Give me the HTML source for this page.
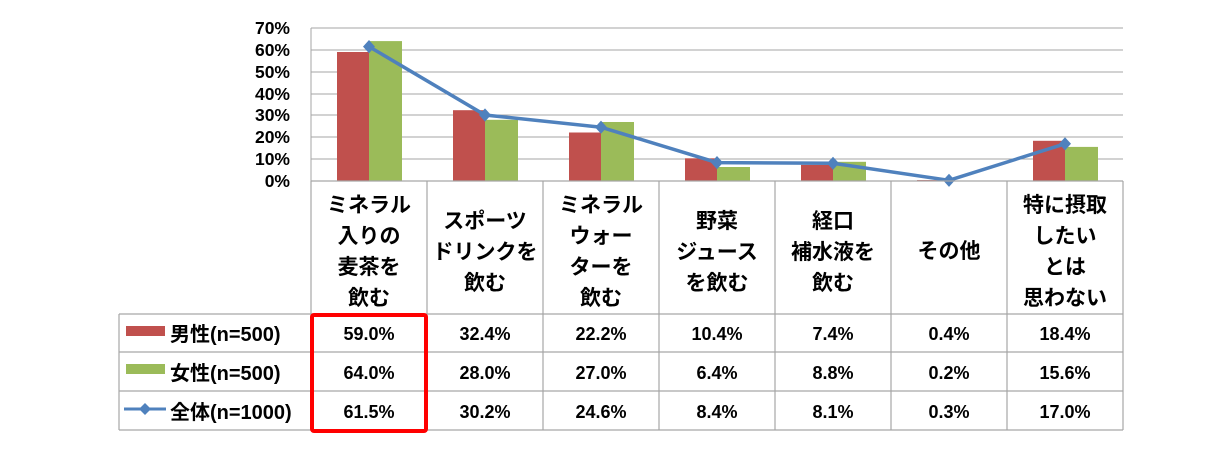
<!DOCTYPE html>
<html><head><meta charset="utf-8"><style>
html,body{margin:0;padding:0;background:#fff;}
svg{display:block;}
text{font-family:"Liberation Sans","Noto Sans CJK JP",sans-serif;font-weight:bold;fill:#000;}
</style></head><body>
<svg width="1225" height="476" viewBox="0 0 1225 476">
<g stroke="#a6a6a6" stroke-width="1">
<line x1="311" y1="28" x2="1123" y2="28"/>
<line x1="311" y1="50" x2="1123" y2="50"/>
<line x1="311" y1="72" x2="1123" y2="72"/>
<line x1="311" y1="94" x2="1123" y2="94"/>
<line x1="311" y1="115" x2="1123" y2="115"/>
<line x1="311" y1="137" x2="1123" y2="137"/>
<line x1="311" y1="159" x2="1123" y2="159"/>
<line x1="311" y1="28" x2="311" y2="181"/>
</g>
<g font-size="17.5" text-anchor="end">
<text x="290" y="34">70%</text><text x="290" y="56">60%</text><text x="290" y="78">50%</text>
<text x="290" y="100">40%</text><text x="290" y="121">30%</text><text x="290" y="143">20%</text>
<text x="290" y="165">10%</text><text x="290" y="187">0%</text>
</g>
<g fill="#c0504d">
<rect x="337" y="52" width="32" height="129"/><rect x="453" y="110.2" width="32" height="70.8"/>
<rect x="569" y="132.5" width="32" height="48.5"/><rect x="685" y="158.3" width="32" height="22.7"/>
<rect x="801" y="164.8" width="32" height="16.2"/><rect x="917" y="180.1" width="32" height="0.9"/>
<rect x="1033" y="140.8" width="32" height="40.2"/>
</g>
<g fill="#9bbb59">
<rect x="369" y="41.1" width="33" height="139.9"/><rect x="485" y="119.8" width="33" height="61.2"/>
<rect x="601" y="122" width="33" height="59"/><rect x="717" y="167" width="33" height="14"/>
<rect x="833" y="161.8" width="33" height="19.2"/><rect x="949" y="180.6" width="33" height="0.4"/>
<rect x="1065" y="146.9" width="33" height="34.1"/>
</g>
<polyline fill="none" stroke="#4f81bd" stroke-width="3.5" points="369,46.6 485,115 601,127.2 717,162.6 833,163.3 949,180.3 1065,143.8"/>
<g fill="#4f81bd">
<path d="M369 40l6 6.6-6 6.6-6-6.6z"/><path d="M485 108.4l6 6.6-6 6.6-6-6.6z"/>
<path d="M601 120.6l6 6.6-6 6.6-6-6.6z"/><path d="M717 156l6 6.6-6 6.6-6-6.6z"/>
<path d="M833 156.7l6 6.6-6 6.6-6-6.6z"/><path d="M949 173.7l6 6.6-6 6.6-6-6.6z"/>
<path d="M1065 137.2l6 6.6-6 6.6-6-6.6z"/>
</g>
<g stroke="#a6a6a6" stroke-width="1.2" fill="none">
<line x1="311" y1="181" x2="1123" y2="181"/>
<line x1="119" y1="314" x2="1123" y2="314"/>
<line x1="119" y1="352" x2="1123" y2="352"/>
<line x1="119" y1="391" x2="1123" y2="391"/>
<line x1="119" y1="430" x2="1123" y2="430"/>
<line x1="119" y1="314" x2="119" y2="430"/>
<line x1="311" y1="181" x2="311" y2="430"/>
<line x1="427" y1="181" x2="427" y2="430"/>
<line x1="543" y1="181" x2="543" y2="430"/>
<line x1="659" y1="181" x2="659" y2="430"/>
<line x1="775" y1="181" x2="775" y2="430"/>
<line x1="891" y1="181" x2="891" y2="430"/>
<line x1="1007" y1="181" x2="1007" y2="430"/>
<line x1="1123" y1="181" x2="1123" y2="430"/>
</g>
<g font-size="21" text-anchor="middle">
<text x="369" y="212">ミネラル</text><text x="369" y="243">入りの</text><text x="369" y="274">麦茶を</text><text x="369" y="305">飲む</text>
<text x="485" y="228">スポーツ</text><text x="485" y="259">ドリンクを</text><text x="485" y="290">飲む</text>
<text x="601" y="212">ミネラル</text><text x="601" y="243">ウォー</text><text x="601" y="274">ターを</text><text x="601" y="305">飲む</text>
<text x="717" y="228">野菜</text><text x="717" y="259">ジュース</text><text x="717" y="290">を飲む</text>
<text x="833" y="228">経口</text><text x="833" y="259">補水液を</text><text x="833" y="290">飲む</text>
<text x="949" y="258">その他</text>
<text x="1065" y="212">特に摂取</text><text x="1065" y="243">したい</text><text x="1065" y="274">とは</text><text x="1065" y="305">思わない</text>
</g>
<rect x="126" y="326" width="39" height="10" fill="#c0504d"/>
<rect x="126" y="364" width="39" height="10" fill="#9bbb59"/>
<line x1="124" y1="409" x2="166" y2="409" stroke="#4f81bd" stroke-width="3"/>
<path d="M145 403l6 6-6 6-6-6z" fill="#4f81bd"/>
<g font-size="20">
<text x="170" y="341">男性(n=500)</text>
<text x="170" y="380">女性(n=500)</text>
<text x="170" y="419">全体(n=1000)</text>
</g>
<g font-size="18" text-anchor="middle">
<text x="369" y="340">59.0%</text><text x="485" y="340">32.4%</text><text x="601" y="340">22.2%</text><text x="717" y="340">10.4%</text><text x="833" y="340">7.4%</text><text x="949" y="340">0.4%</text><text x="1065" y="340">18.4%</text>
<text x="369" y="379">64.0%</text><text x="485" y="379">28.0%</text><text x="601" y="379">27.0%</text><text x="717" y="379">6.4%</text><text x="833" y="379">8.8%</text><text x="949" y="379">0.2%</text><text x="1065" y="379">15.6%</text>
<text x="369" y="418">61.5%</text><text x="485" y="418">30.2%</text><text x="601" y="418">24.6%</text><text x="717" y="418">8.4%</text><text x="833" y="418">8.1%</text><text x="949" y="418">0.3%</text><text x="1065" y="418">17.0%</text>
</g>
<rect x="312" y="315" width="114" height="116" fill="none" stroke="#ff0000" stroke-width="4" rx="2"/>
</svg>
</body></html>
